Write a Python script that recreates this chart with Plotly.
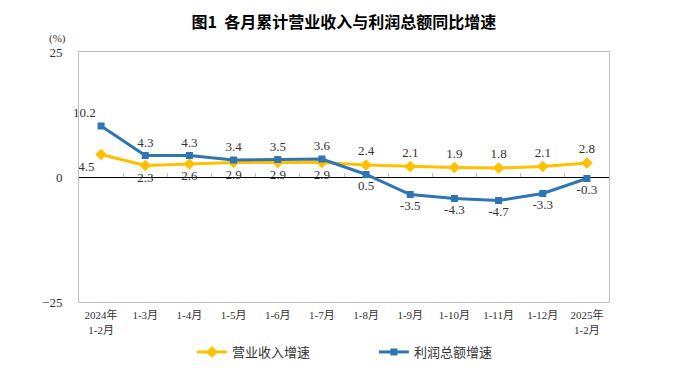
import plotly.graph_objects as go

categories = ["2024年<br>1-2月", "1-3月", "1-4月", "1-5月", "1-6月", "1-7月", "1-8月",
              "1-9月", "1-10月", "1-11月", "1-12月", "2025年<br>1-2月"]
revenue = [4.5, 2.3, 2.6, 2.9, 2.9, 2.9, 2.4, 2.1, 1.9, 1.8, 2.1, 2.8]
profit = [10.2, 4.3, 4.3, 3.4, 3.5, 3.6, 0.5, -3.5, -4.3, -4.7, -3.3, -0.3]
rev_pos = ["bottom left", "bottom center", "bottom center", "bottom center", "bottom center",
           "bottom center", "top center", "top center", "top center", "top center",
           "top center", "top center"]
pro_pos = ["top left", "top center", "top center", "top center", "top center", "top center",
           "bottom center", "bottom center", "bottom center", "bottom center",
           "bottom center", "bottom center"]

x = list(range(len(categories)))
serif = "Liberation Serif, Noto Sans CJK SC, serif"
cjk = "Noto Sans CJK SC, sans-serif"

fig = go.Figure()
fig.add_trace(go.Scatter(
    x=x, y=revenue, name="营业收入增速", mode="lines+markers+text",
    line=dict(color="#FFC000", width=3),
    marker=dict(symbol="diamond", size=9, color="#FFC000"),
    text=[f"{v:.1f}" for v in revenue], textposition=rev_pos,
    textfont=dict(family=serif, size=13, color="#333333"), cliponaxis=False,
))
fig.add_trace(go.Scatter(
    x=x, y=profit, name="利润总额增速", mode="lines+markers+text",
    line=dict(color="#2E75B6", width=3),
    marker=dict(symbol="square", size=7, color="#2E75B6"),
    text=[f"{v:.1f}" for v in profit], textposition=pro_pos,
    textfont=dict(family=serif, size=13, color="#333333"), cliponaxis=False,
))
# invisible trace for the tick axis on the zero line
fig.add_trace(go.Scatter(x=[-0.5, 11.5], y=[0, 0], xaxis="x2", yaxis="y",
                         mode="lines", line=dict(width=0), showlegend=False,
                         hoverinfo="skip"))

fig.update_layout(
    width=692, height=386,
    margin=dict(l=79, r=83, t=52, b=84, autoexpand=False),
    paper_bgcolor="white", plot_bgcolor="white",
    title=dict(text="图1  各月累计营业收入与利润总额同比增速", x=0.497, xanchor="center",
               y=0.943, yanchor="middle",
               font=dict(family=cjk, size=16, color="#000000", weight="bold")),
    xaxis=dict(range=[-0.5, 11.5], tickvals=x, ticktext=categories,
               showgrid=False, zeroline=False, showline=True, mirror=True,
               linecolor="#BFBFBF", linewidth=1, ticks="", ticklabelstandoff=3,
               tickfont=dict(family=serif, size=11, color="#333333")),
    xaxis2=dict(range=[-0.5, 11.5], overlaying="x", anchor="free", position=0.5,
                tickvals=[i + 0.5 for i in range(11)], ticks="inside", ticklen=4,
                tickcolor="#BFBFBF", showticklabels=False, showgrid=False,
                zeroline=False, showline=False),
    yaxis=dict(range=[-25, 25], tickvals=[-25, 0, 25], showgrid=False,
               zeroline=True, zerolinecolor="#000000", zerolinewidth=1,
               showline=True, mirror=True, linecolor="#BFBFBF", linewidth=1,
               ticks="", ticklabelstandoff=13,
               tickfont=dict(family=serif, size=13, color="#333333")),
    legend=dict(orientation="h", x=0.213, xanchor="left", y=-0.14, yanchor="top",
                font=dict(family=cjk, size=13, color="#333333"),
                itemwidth=30, entrywidth=137),
    showlegend=True,
)
fig.add_annotation(text="(%)", xref="paper", yref="paper", x=-0.04, y=1.0,
                   xanchor="center", yanchor="bottom", yshift=5, showarrow=False,
                   font=dict(family=serif, size=11, color="#333333"))

fig.write_html("out.html", config={"displayModeBar": False},
               post_script="document.body.style.margin='0';")
